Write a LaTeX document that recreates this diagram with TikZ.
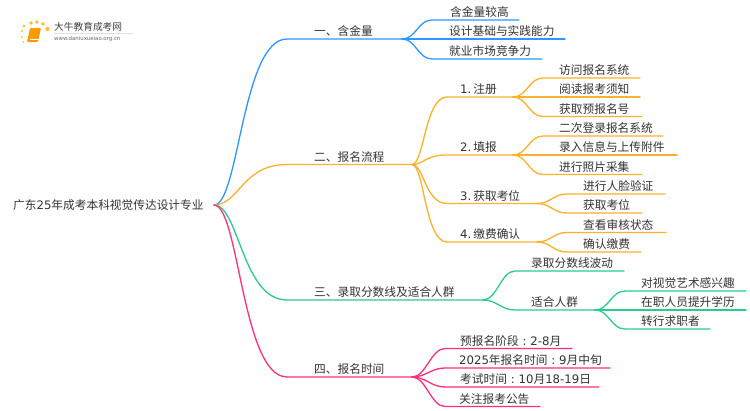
\documentclass[tikz,border=0pt]{standalone}
\usepackage{fontspec}
\setmainfont{Noto Sans CJK SC}
\newfontfamily\latf{DejaVu Sans}
\newcommand{\lat}[1]{{\latf\fontsize{11.7pt}{13pt}\selectfont #1}}
\newcommand{\wcolon}{\hbox to 11.7pt{\hss\lat{:}\hss}}
\newcommand{\nsp}{\hspace{2pt}}
\definecolor{cblue}{HTML}{2F96FF}
\definecolor{corange}{HTML}{FBB12C}
\definecolor{cgreen}{HTML}{2CCB8A}
\definecolor{cpink}{HTML}{FF2D80}
\definecolor{ctext}{HTML}{333333}
\tikzset{
  label/.style={anchor=base west,inner sep=0pt,text=ctext,font=\fontsize{11.7pt}{13pt}\selectfont},
  conn/.style={line width=1.3pt,line cap=round}
}
% name, parent, curve end x, line end x, y, colour, text x, text
\newcommand{\cOut}{14}
\newcommand{\cIn}{14}
\newcommand{\mbranch}[8]{%
  \coordinate (#1-s) at (#3,#5);
  \coordinate (#1) at (#4,#5);
  \node[label] (#1-t) at (#7,#5-3.4) {#8};
  \draw[conn,#6] (#2) .. controls +(\cOut,0) and +(-\cIn,0) .. (#1-s) -- (#1);
}
\newcommand{\setc}[2]{\renewcommand{\cOut}{#1}\renewcommand{\cIn}{#2}}
\begin{document}
\begin{tikzpicture}[x=1pt,y=-1pt]
\useasboundingbox[fill=white] (0,0) rectangle (750,410);
% logo
\foreach \px/\py/\r in {24/26/1.5,22/31/1.2,22/37/1,23.5/42/.8,31/23/1.8,37/22/1.9,43/24/1.8,47.5/29/2.1}
  \fill[orange!60!yellow,opacity=.85] (\px,\py) circle (\r);
\fill[orange!80!yellow,rounded corners=1pt] (30,28) -- (41,28) -- (38,42) -- (27,42) -- cycle;
\draw[white,line width=.5pt] (30,39) -- (38.5,39);
\node[anchor=west,inner sep=0pt,text=black!75,font=\fontsize{9.7pt}{11pt}\selectfont] (logotitle) at (54,27) {大牛教育成考网};
\node[anchor=west,inner sep=0pt,text=black!60,font=\latf\fontsize{5.4pt}{6pt}\selectfont] (logourl) at (54,39) {www.daniuxueiao.org.cn};
\draw[black!12,line width=.5pt] (54,33) -- (133,33);
% root
\coordinate (root) at (214,205);
\node[label] (root-t) at (13,209.5) {广东\lat{25}年成考本科视觉传达设计专业};
% one
\setc{25}{45}
\mbranch{a}{root}{287}{402}{39}{cblue}{314}{一、含金量}
\setc{14}{14}
\mbranch{a1}{a}{432}{519}{20}{cblue}{450}{含金量较高}
\mbranch{a2}{a}{432}{565}{39}{cblue}{449}{设计基础与实践能力}
\mbranch{a3}{a}{432}{542}{59}{cblue}{449}{就业市场竞争力}
% two
\setc{25}{45}
\mbranch{b}{root}{287}{412}{164.5}{corange}{314}{二、报名流程}
\setc{12}{22}
\mbranch{b1}{b}{447}{513}{97}{corange}{460}{\lat{1.}\nsp 注册}
\mbranch{b2}{b}{447}{513}{155}{corange}{460}{\lat{2.}\nsp 填报}
\mbranch{b3}{b}{447}{537}{203.5}{corange}{460}{\lat{3.}\nsp 获取考位}
\mbranch{b4}{b}{447}{537}{242}{corange}{460}{\lat{4.}\nsp 缴费确认}
\setc{14}{14}
\mbranch{b11}{b1}{543}{640}{78}{corange}{559}{访问报名系统}
\mbranch{b12}{b1}{543}{640}{97}{corange}{559}{阅读报考须知}
\mbranch{b13}{b1}{543}{642}{116.5}{corange}{559}{获取预报名号}
\mbranch{b21}{b2}{543}{663}{136}{corange}{559}{二次登录报名系统}
\mbranch{b22}{b2}{543}{677}{155}{corange}{559}{录入信息与上传附件}
\mbranch{b23}{b2}{543}{642}{174.5}{corange}{559}{进行照片采集}
\mbranch{b31}{b3}{567}{665}{194}{corange}{583}{进行人脸验证}
\mbranch{b32}{b3}{567}{642}{213}{corange}{583}{获取考位}
\mbranch{b41}{b4}{567}{666}{232.5}{corange}{583}{查看审核状态}
\mbranch{b42}{b4}{567}{641}{252}{corange}{583}{确认缴费}
% three
\setc{25}{45}
\mbranch{c}{root}{287}{483}{300}{cgreen}{314}{三、录取分数线及适合人群}
\setc{14}{14}
\mbranch{c1}{c}{515}{624}{271}{cgreen}{531}{录取分数线波动}
\mbranch{c2}{c}{515}{595}{310}{cgreen}{531}{适合人群}
\mbranch{c21}{c2}{625}{746}{291}{cgreen}{641}{对视觉艺术感兴趣}
\mbranch{c22}{c2}{625}{746}{310}{cgreen}{641}{在职人员提升学历}
\mbranch{c23}{c2}{625}{710}{329}{cgreen}{641}{转行求职者}
% four
\setc{25}{45}
\mbranch{d}{root}{287}{412}{377}{cpink}{314}{四、报名时间}
\setc{14}{14}
\mbranch{d1}{d}{445}{572}{348.5}{cpink}{460}{预报名阶段\wcolon\lat{2-8}月}
\mbranch{d2}{d}{445}{610}{368}{cpink}{459}{\lat{2025}年报名时间\wcolon\lat{9}月中旬}
\mbranch{d3}{d}{445}{599}{387}{cpink}{460}{考试时间\wcolon\lat{10}月\lat{18-19}日}
\mbranch{d4}{d}{445}{540}{406.5}{cpink}{459}{关注报考公告}
\end{tikzpicture}
\end{document}
